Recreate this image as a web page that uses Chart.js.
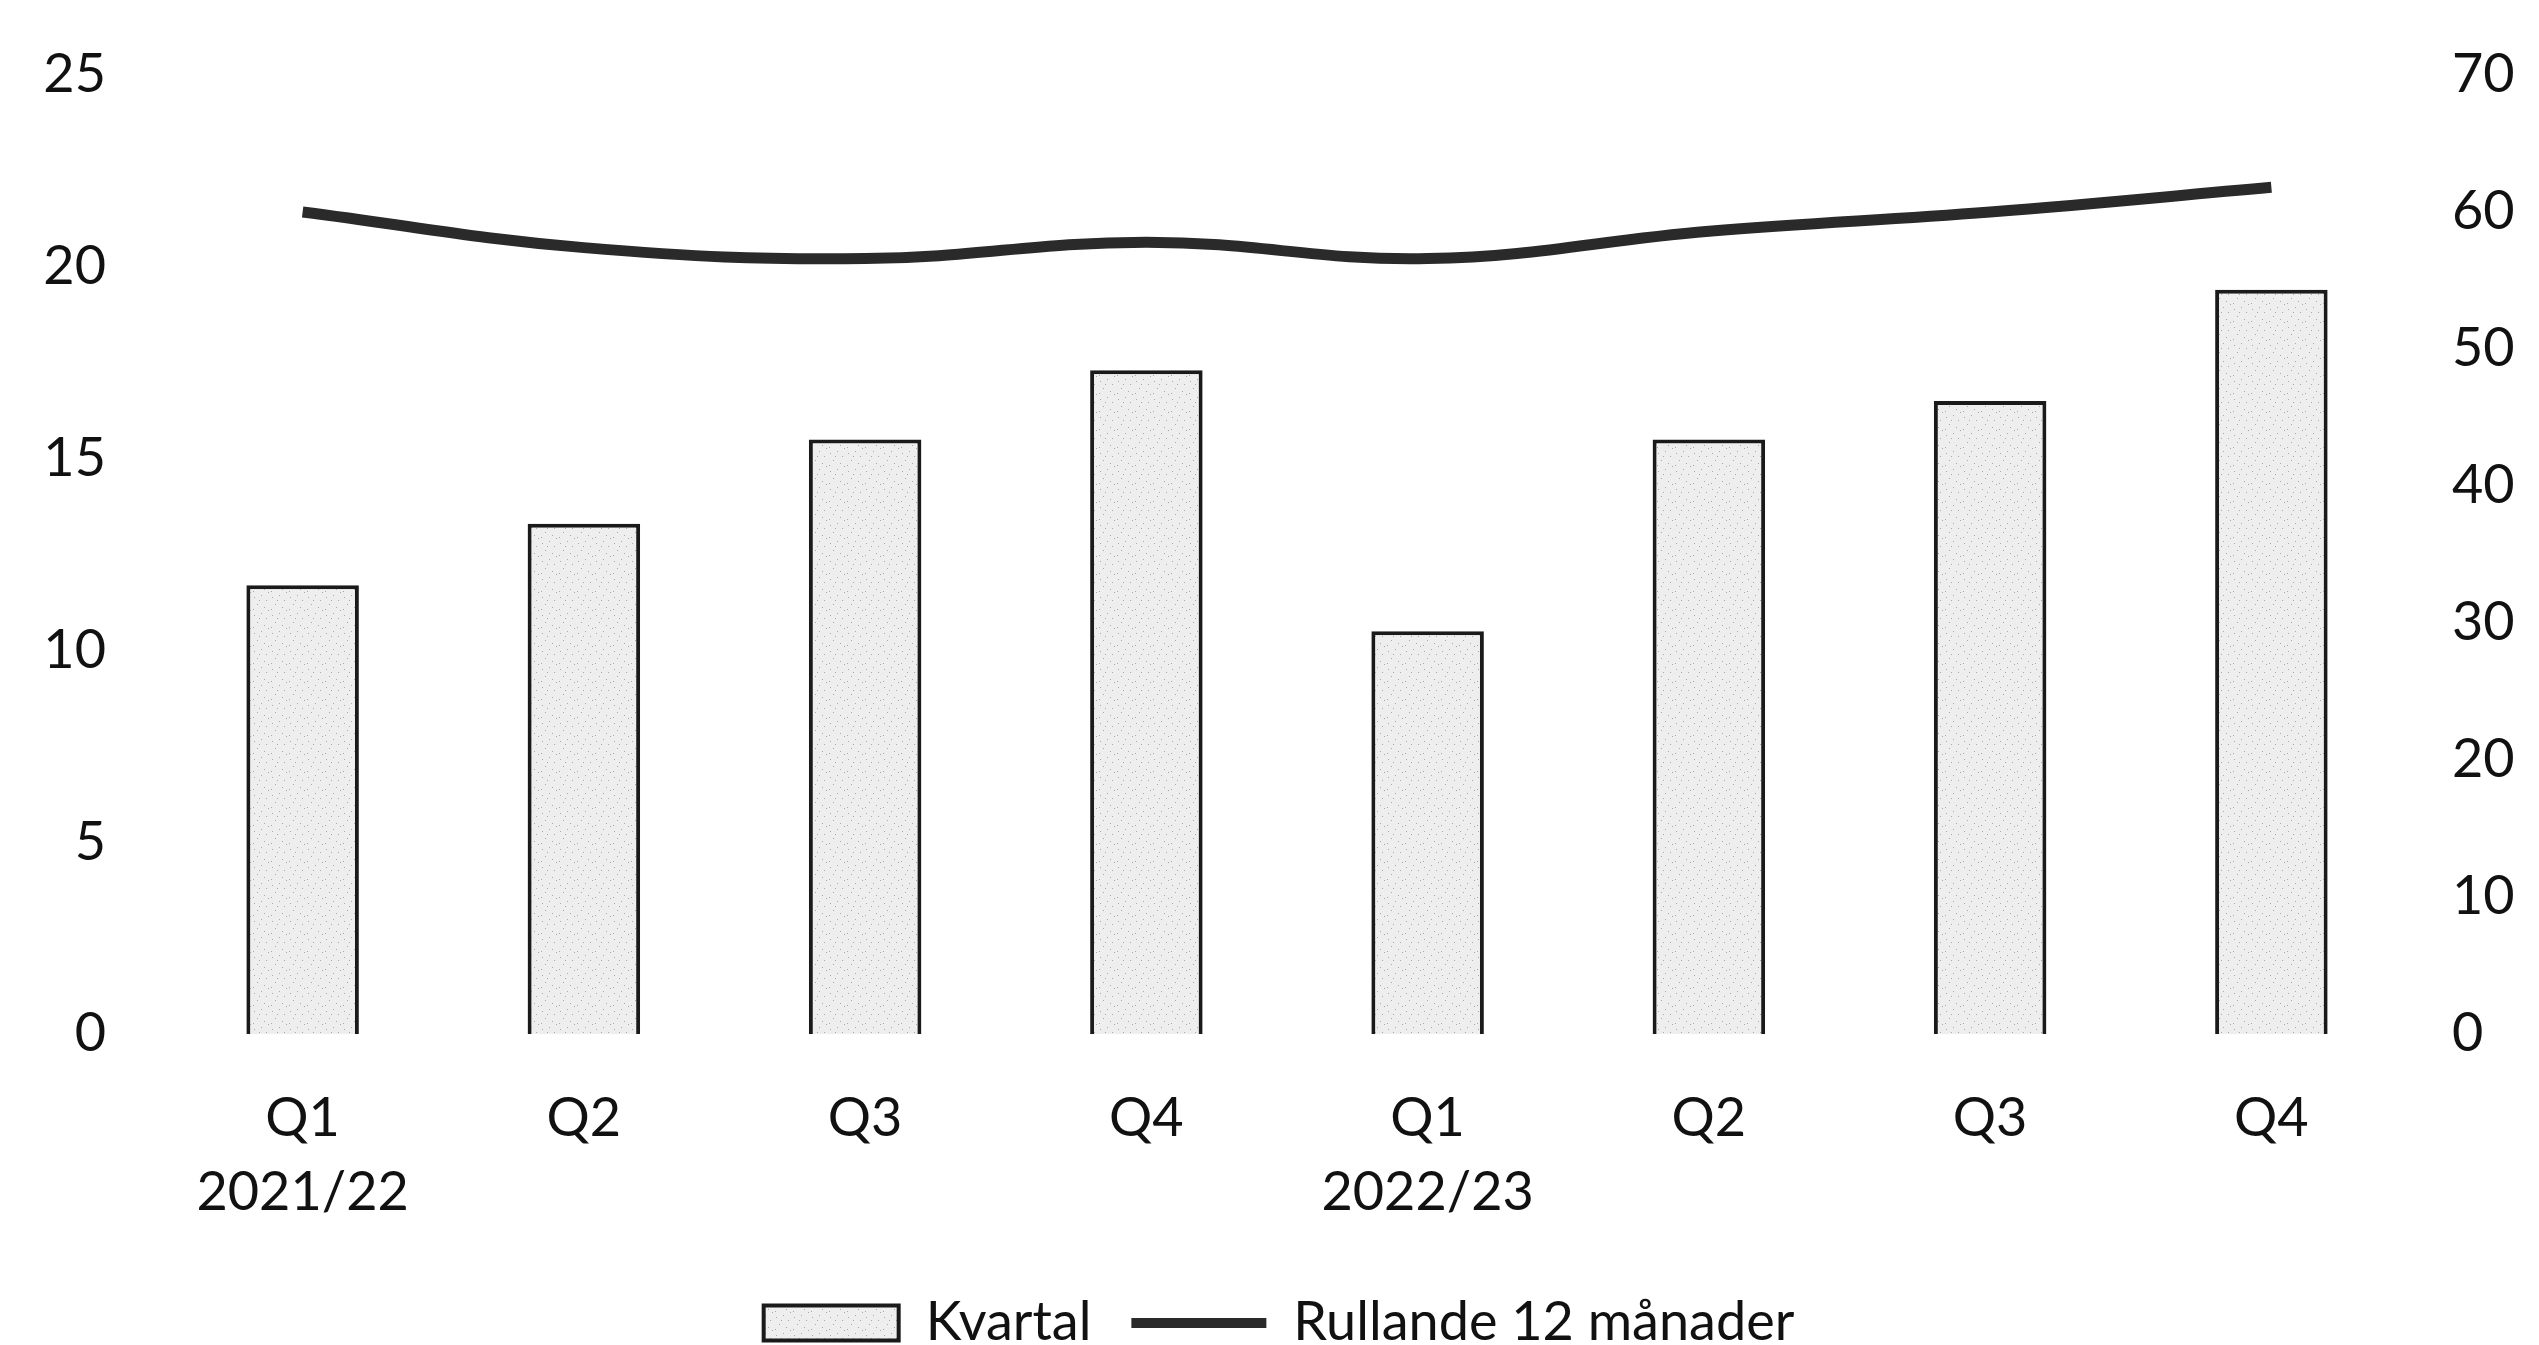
<!DOCTYPE html>
<html>
<head>
<meta charset="utf-8">
<script src="https://cdn.jsdelivr.net/npm/chart.js@4"></script>
<style>
    html, body { margin: 0; padding: 0; background: #ffffff; }
    #wrap { width: 2539px; height: 1345px; position: relative; }
</style>
</head>
<body>
<div id="wrap"><canvas id="kvartalChart"></canvas></div>
<script>
const categories = [['Q1', '2021/22'], 'Q2', 'Q3', 'Q4', ['Q1', '2022/23'], 'Q2', 'Q3', 'Q4'];
const kvartalValues = [11.7, 13.3, 15.5, 17.3, 10.5, 15.5, 16.5, 19.4];
const rullandeValues = [60.0, 57.4, 56.6, 57.8, 56.6, 58.6, 60.0, 61.8];
const leftTicks = [0, 5, 10, 15, 20, 25];
const rightTicks = [0, 10, 20, 30, 40, 50, 60, 70];

// light speckled fill, like the scanned bars
function speckle() {
    const c = document.createElement('canvas');
    c.width = 18; c.height = 18;
    const g = c.getContext('2d');
    g.fillStyle = '#eeeeee';
    g.fillRect(0, 0, 18, 18);
    g.fillStyle = '#a8a8a8';
    [[2, 3], [9, 1], [14, 6], [5, 10], [12, 13], [1, 15], [16, 16], [7, 6]].forEach(p => g.fillRect(p[0], p[1], 1, 1));
    return g.createPattern(c, 'repeat');
}
const barFill = speckle();

const tickFont = { family: 'Lato', size: 54 };

// Chart.js counts tick padding twice; pin the axis sizes instead
function fixSide(width) {
    return axis => {
        axis.width = width;
        axis.paddingTop = 0;
        axis.paddingBottom = 0;
    };
}

const ctx = document.getElementById('kvartalChart').getContext('2d');
new Chart(ctx, {
    data: {
        labels: categories,
        datasets: [{
            type: 'bar',
            label: 'Kvartal',
            data: kvartalValues,
            yAxisID: 'y',
            backgroundColor: barFill,
            borderColor: '#1a1a1a',
            borderWidth: 4,
            categoryPercentage: 1,
            barPercentage: 0.4,
            order: 2
        }, {
            type: 'line',
            label: 'Rullande 12 månader',
            data: rullandeValues,
            yAxisID: 'y1',
            borderColor: '#2a2a2a',
            borderWidth: 11,
            tension: 0.4,
            pointRadius: 0,
            fill: false,
            order: 1
        }]
    },
    options: {
        responsive: true,
        maintainAspectRatio: false,
        animation: false,
        layout: {
            padding: { top: 75, left: 34, right: 15, bottom: -15 }
        },
        plugins: {
            tooltip: { enabled: false },
            legend: {
                position: 'bottom',
                labels: {
                    color: '#111111',
                    font: tickFont,
                    usePointStyle: true,
                    pointStyleWidth: 135,
                    boxHeight: 35,
                    padding: 40,
                    generateLabels: chart => chart.data.datasets.map((ds, i) => ({
                        text: ds.label,
                        datasetIndex: i,
                        fontColor: '#111111',
                        fillStyle: i === 0 ? barFill : '#2a2a2a',
                        strokeStyle: i === 0 ? '#1a1a1a' : '#2a2a2a',
                        lineWidth: i === 0 ? 4 : 10,
                        pointStyle: i === 0 ? 'rect' : 'line',
                        hidden: false
                    }))
                }
            }
        },
        scales: {
            x: {
                grid: { display: false, drawTicks: false },
                border: { display: false },
                ticks: {
                    color: '#111111',
                    font: { family: 'Lato', size: 54, lineHeight: 1.37 },
                    padding: 48,
                    maxRotation: 0,
                    autoSkip: false
                },
                afterFit: axis => {
                    axis.height = 222;
                    axis.paddingLeft = 0;
                    axis.paddingRight = 0;
                }
            },
            y: {
                position: 'left',
                min: 0,
                max: 25,
                afterBuildTicks: axis => { axis.ticks = leftTicks.map(v => ({ value: v })); },
                afterFit: fixSide(128),
                grid: { display: false, drawTicks: false },
                border: { display: false },
                ticks: { color: '#111111', font: tickFont, padding: 56 }
            },
            y1: {
                position: 'right',
                min: 0,
                max: 70,
                afterBuildTicks: axis => { axis.ticks = rightTicks.map(v => ({ value: v })); },
                afterFit: fixSide(112),
                grid: { display: false, drawTicks: false },
                border: { display: false },
                ticks: { color: '#111111', font: tickFont, padding: 40 }
            }
        }
    }
});
</script>
</body>
</html>
